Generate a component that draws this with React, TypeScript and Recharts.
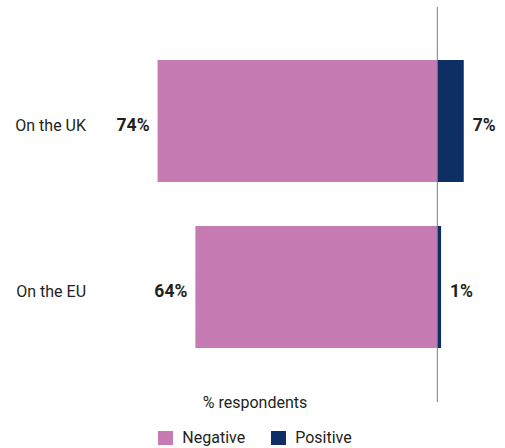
import React from 'react';
import { BarChart, Bar, XAxis, YAxis, ReferenceLine, Legend, LabelList } from 'recharts';

const categories = ['On the UK', 'On the EU'];
const negativeValues = [-74, -64];
const positiveValues = [7, 1];
const seriesNames = ['Negative', 'Positive'];
const axisTitle = '% respondents';
const xDomain = [-85, 15];

const data = categories.map((c, i) => ({
  name: c,
  [seriesNames[0]]: negativeValues[i],
  [seriesNames[1]]: positiveValues[i],
}));

const PINK = '#c77bb3';
const NAVY = '#0e2f64';
const TEXT = '#231f20';
const FONT = 'Roboto, "Open Sans", sans-serif';
const FS = 16;
const BFS = 17.5;

const fmt = (v: number) => `${Math.abs(v)}%`;

const NegLabel = (props: any) => {
  const { x, y, width, height, value } = props;
  const left = Math.min(x, x + width);
  return (
    <text x={left - 8} y={y + height / 2 + 4 + 0.355 * BFS} textAnchor="end" fontFamily={FONT} fontSize={BFS} fontWeight="bold" fill={TEXT}>
      {fmt(value)}
    </text>
  );
};

const PosLabel = (props: any) => {
  const { x, y, width, height, value } = props;
  const right = Math.max(x, x + width);
  return (
    <text x={right + 9} y={y + height / 2 + 4 + 0.355 * BFS} textAnchor="start" fontFamily={FONT} fontSize={BFS} fontWeight="bold" fill={TEXT}>
      {fmt(value)}
    </text>
  );
};

const CatTick = (props: any) => {
  const { x, y, payload } = props;
  return (
    <text x={x} y={y + 4 + 0.355 * FS} textAnchor="end" fontFamily={FONT} fontSize={FS} fill={TEXT}>
      {payload.value}
    </text>
  );
};

const LegendContent = (props: any) => {
  const payload = props.payload || [];
  return (
    <div style={{ fontFamily: FONT, color: TEXT, fontSize: FS, marginTop: -7, paddingLeft: 16, textAlign: 'center' }}>
      <div style={{ lineHeight: '16px', height: 35 }}>{axisTitle}</div>
      <div style={{ lineHeight: '16px', display: 'flex', justifyContent: 'center', gap: 26 }}>
        {payload.map((p: any) => (
          <span key={p.value} style={{ display: 'inline-flex', alignItems: 'center' }}>
            <span style={{ width: 15, height: 14, background: p.color, marginRight: 9, display: 'inline-block' }} />
            {p.value}
          </span>
        ))}
      </div>
    </div>
  );
};

export default function App() {
  return (
    <div style={{ position: 'absolute', left: 0, top: 0 }}>
      <BarChart
        width={505}
        height={448}
        data={data}
        layout="vertical"
        stackOffset="sign"
        barCategoryGap={22}
        margin={{ top: 7, right: 11, bottom: 0, left: 0 }}
      >
        <XAxis type="number" domain={xDomain} hide allowDataOverflow />
        <YAxis
          type="category"
          dataKey="name"
          width={116}
          axisLine={false}
          tickLine={false}
          tickSize={0}
          tickMargin={30}
          padding={{ top: 31, bottom: 32 }}
          tick={<CatTick />}
        />
        <Legend verticalAlign="bottom" height={46} content={<LegendContent />} />
        <Bar dataKey={seriesNames[0]} stackId="a" fill={PINK} isAnimationActive={false}>
          <LabelList dataKey={seriesNames[0]} content={<NegLabel />} />
        </Bar>
        <Bar dataKey={seriesNames[1]} stackId="a" fill={NAVY} isAnimationActive={false}>
          <LabelList dataKey={seriesNames[1]} content={<PosLabel />} />
        </Bar>
        <ReferenceLine x={0} stroke="#6f7b8b" strokeWidth={1} />
      </BarChart>
    </div>
  );
}
